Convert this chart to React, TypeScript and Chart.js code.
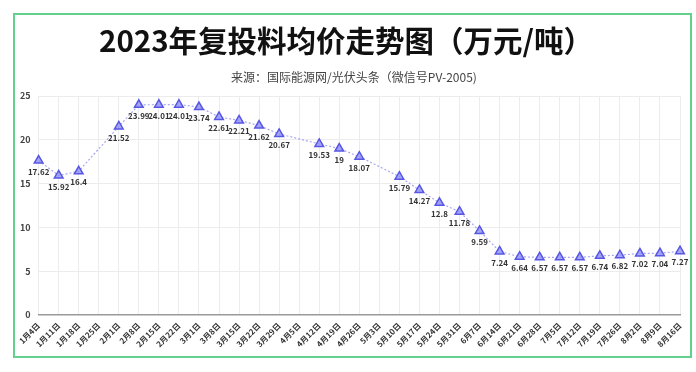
import React, { useEffect, useRef } from "react";
import { Chart, registerables } from "chart.js";

Chart.register(...registerables);

const categories = [
  "1月4日", "1月11日", "1月18日", "1月25日", "2月1日", "2月8日", "2月15日", "2月22日",
  "3月1日", "3月8日", "3月15日", "3月22日", "3月29日", "4月5日", "4月12日", "4月19日",
  "4月26日", "5月3日", "5月10日", "5月17日", "5月24日", "5月31日", "6月7日", "6月14日",
  "6月21日", "6月28日", "7月5日", "7月12日", "7月19日", "7月26日", "8月2日", "8月9日", "8月16日",
];

const prices: (number | null)[] = [
  17.62, 15.92, 16.4, null, 21.52, 23.99, 24.01, 24.01,
  23.74, 22.61, 22.21, 21.62, 20.67, null, 19.53, 19,
  18.07, null, 15.79, 14.27, 12.8, 11.78, 9.59, 7.24,
  6.64, 6.57, 6.57, 6.57, 6.74, 6.82, 7.02, 7.04, 7.27,
];

const yTicks = [0, 5, 10, 15, 20, 25];

const titleText = "2023年复投料均价走势图（万元/吨）";
const subtitleText = "来源：国际能源网/光伏头条（微信号PV-2005)";

const FONT = "'Noto Sans CJK SC', 'Noto Sans', sans-serif";

const labelPlugin = {
  id: "pointLabels",
  afterDatasetsDraw(chart: any) {
    const ctx = chart.ctx;
    const meta = chart.getDatasetMeta(0);
    ctx.save();
    ctx.font = `bold 8px ${FONT}`;
    ctx.fillStyle = "#333";
    ctx.textAlign = "center";
    ctx.textBaseline = "top";
    meta.data.forEach((pt: any, i: number) => {
      const v = prices[i];
      if (v === null || v === undefined) return;
      ctx.fillText(String(v), pt.x, pt.y + 7);
    });
    ctx.restore();
  },
};

const headerPlugin = {
  id: "header",
  afterDraw(chart: any) {
    const ctx = chart.ctx;
    ctx.save();
    ctx.textAlign = "center";
    ctx.textBaseline = "middle";
    ctx.font = `bold 29.5px ${FONT}`;
    ctx.fillStyle = "#111";
    ctx.fillText(titleText, 346, 41);
    ctx.font = `12px ${FONT}`;
    ctx.fillStyle = "#444";
    ctx.fillText(subtitleText, 354, 77);
    ctx.restore();
  },
};

export default function App() {
  const ref = useRef<HTMLCanvasElement | null>(null);
  useEffect(() => {
    if (!ref.current) return;
    const chart = new Chart(ref.current, {
      type: "line",
      data: {
        labels: categories,
        datasets: [
          {
            data: prices,
            borderColor: "#a7a7f3",
            borderWidth: 1.2,
            borderDash: [2, 2],
            spanGaps: true,
            pointStyle: "triangle",
            pointRadius: 5,
            pointBackgroundColor: "rgba(140,140,245,0.75)",
            pointBorderColor: "#5757e3",
            pointBorderWidth: 1.5,
            tension: 0,
          },
        ],
      },
      options: {
        animation: false,
        responsive: false,
        maintainAspectRatio: false,
        layout: { padding: { left: 12, right: 16, top: 0, bottom: 17 } },
        plugins: {
          legend: { display: false },
          tooltip: { enabled: false },
          title: {
            display: true,
            text: titleText,
            color: "rgba(0,0,0,0)",
            font: { family: FONT, size: 29, weight: "bold" },
            padding: { top: 26, bottom: 9 },
          },
          subtitle: {
            display: true,
            text: subtitleText,
            color: "rgba(0,0,0,0)",
            font: { family: FONT, size: 11 },
            padding: { top: 0, bottom: 13 },
          },
        },
        scales: {
          x: {
            offset: false,
            grid: { color: "#ececec", drawTicks: false },
            border: { color: "#9a9a9a", width: 1.5 },
            ticks: {
              autoSkip: false,
              maxRotation: 45,
              minRotation: 45,
              color: "#333",
              padding: 6,
              font: { family: FONT, size: 8, weight: "bold" },
            },
          },
          y: {
            min: 0,
            max: 25,
            afterBuildTicks: (axis: any) => {
              axis.ticks = yTicks.map((v) => ({ value: v }));
            },
            grid: { color: "#ececec", drawTicks: false },
            border: { display: false },
            ticks: {
              color: "#444",
              padding: 8,
              font: { family: FONT, size: 9, weight: "bold" },
            },
          },
        },
      },
      plugins: [labelPlugin, headerPlugin],
    });
    return () => chart.destroy();
  }, []);

  return (
    <div style={{ position: "fixed", left: 0, top: 0, width: 696, height: 372, background: "#fff" }}>
      <div
        style={{
          position: "absolute",
          left: 13,
          top: 13,
          width: 675,
          height: 341,
          border: "2px solid #63d08e",
          boxSizing: "content-box",
        }}
      />
      <canvas ref={ref} width={696} height={372} style={{ position: "absolute", left: 0, top: 0 }} />
    </div>
  );
}
